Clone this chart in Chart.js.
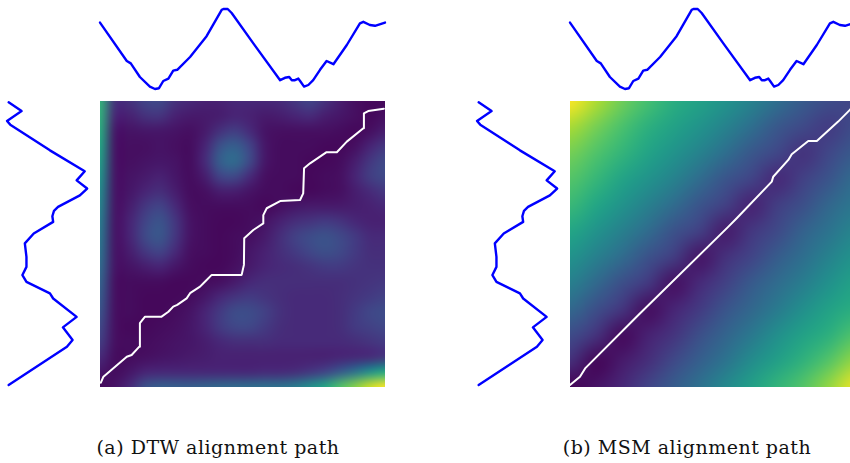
<!DOCTYPE html>
<html>
<head>
<meta charset="utf-8">
<script src="https://cdn.jsdelivr.net/npm/chart.js@4.4.1/dist/chart.umd.min.js"></script>
<style>
  html, body { margin: 0; padding: 0; background: #fff; }
  body { position: relative; width: 850px; height: 463px; overflow: hidden; }
  canvas { position: absolute; }
  .cap { position: absolute; top: 436px; width: 300px; text-align: center; white-space: nowrap;
         font: 19px "DejaVu Serif", serif; letter-spacing: 0.5px; color: #111; }
</style>
</head>
<body>
<canvas id="topA" width="295" height="90" style="left:95px;top:4px"></canvas>
<canvas id="leftA" width="95" height="296" style="left:0px;top:96px"></canvas>
<canvas id="heatA" width="295" height="296" style="left:95px;top:96px"></canvas>
<canvas id="topB" width="295" height="90" style="left:565px;top:4px"></canvas>
<canvas id="leftB" width="95" height="296" style="left:470px;top:96px"></canvas>
<canvas id="heatB" width="295" height="296" style="left:565px;top:96px"></canvas>
<div class="cap" style="left:68px">(a) DTW alignment path</div>
<div class="cap" style="left:537px">(b) MSM alignment path</div>
<script>
// series drawn above the matrix (time 0..100, value 0..1)
const topT = [0, 9.4, 10.8, 14.0, 17.5, 19.3, 20.7, 22.2, 24.0, 25.7, 27.1, 31.6, 37.4, 42.7, 43.3, 44.8, 46.2,
  53.8, 63.2, 64.9, 66.4, 67.3, 68.4, 69.6, 70.4, 71.6, 73.1, 74.8, 77.2, 79.5, 81.9, 86.6, 91.2, 92.4, 94.7, 96.5, 100];
const topV = [0.83, 0.35, 0.32, 0.15, 0.03, 0.00, 0.01, 0.10, 0.13, 0.23, 0.24, 0.40, 0.66, 0.99, 1.00, 1.00, 0.95,
  0.57, 0.11, 0.14, 0.15, 0.11, 0.11, 0.13, 0.09, 0.03, 0.05, 0.11, 0.24, 0.35, 0.31, 0.55, 0.82, 0.84, 0.80, 0.79, 0.83];

// series drawn left of the matrix (time 0 at the bottom)
const leftT = [0, 13.5, 15.9, 20.4, 24.1, 30.6, 32.4, 36.5, 38.9, 41.8, 45.3, 50.1, 53.6, 57.7, 59.7, 61.6, 63.0,
  67.1, 69.5, 72.4, 75.6, 83.0, 92.1, 93.4, 96.9, 100];
const leftV = [0.02, 0.74, 0.81, 0.69, 0.86, 0.57, 0.53, 0.24, 0.19, 0.24, 0.24, 0.22, 0.33, 0.57, 0.56, 0.58, 0.63,
  0.90, 0.99, 0.86, 0.96, 0.53, 0.04, 0.00, 0.18, 0.02];

// warping paths (i along top series, j along left series)
const dtwI = [0.3, 1.2, 9.4, 11.1, 13.8, 14.0, 15.8, 21.6, 24.0, 25.7, 27.1, 30.4, 31.6, 35.1, 36.8, 39.2, 49.7, 50.5,
  50.6, 53.8, 57.3, 57.3, 58.5, 63.2, 70.2, 71.3, 71.6, 73.7, 79.5, 83.1, 86.6, 92.4, 92.6, 94.1, 99.6];
const dtwJ = [1.5, 3.6, 10.6, 11.2, 14.1, 22.3, 24.6, 24.6, 26.3, 28.1, 28.7, 31.0, 32.8, 35.1, 36.8, 39.2, 39.2, 42.7,
  52.0, 54.9, 57.2, 60.1, 62.5, 65.0, 65.4, 67.7, 76.5, 78.2, 82.1, 82.1, 85.8, 90.5, 95.7, 96.5, 97.3];
const msmI = [0, 3.5, 5.3, 24.0, 55.5, 58.5, 70.8, 71.3, 76.6, 77.8, 83.6, 86.6, 94.1, 98.2, 100];
const msmJ = [0.7, 3.6, 6.5, 25.2, 56.0, 59.0, 71.8, 73.5, 79.4, 81.4, 86.0, 86.0, 92.8, 96.9, 98.5];

// cost matrices sampled on an even node grid over 0..100, normalised 0..1, rows top to bottom
const dtwCost = [
  [.65,.14,.14,.20,.22,.14,.11,.09,.09,.11,.11,.11,.12,.16,.20,.14,.08,.04,.02,.02],
  [.64,.10,.09,.14,.15,.09,.07,.07,.08,.10,.09,.07,.08,.10,.12,.08,.06,.04,.02,.04],
  [.62,.06,.05,.06,.06,.05,.04,.07,.14,.18,.12,.05,.04,.04,.04,.04,.03,.02,.04,.08],
  [.60,.05,.04,.04,.05,.04,.03,.10,.25,.30,.20,.06,.03,.03,.03,.02,.02,.04,.10,.16],
  [.56,.05,.04,.05,.06,.05,.03,.12,.30,.35,.22,.06,.03,.03,.02,.02,.03,.08,.16,.22],
  [.52,.05,.05,.07,.09,.06,.03,.08,.20,.22,.12,.04,.03,.03,.02,.03,.04,.10,.18,.22],
  [.48,.05,.06,.10,.13,.08,.03,.04,.08,.08,.05,.03,.03,.02,.02,.03,.04,.08,.12,.16],
  [.45,.05,.08,.16,.20,.12,.04,.03,.03,.03,.03,.02,.04,.06,.07,.07,.07,.08,.09,.11],
  [.42,.05,.10,.20,.26,.16,.05,.03,.02,.02,.03,.05,.09,.13,.15,.17,.15,.11,.09,.09],
  [.40,.05,.10,.22,.27,.16,.05,.03,.02,.03,.04,.07,.13,.19,.23,.25,.22,.17,.12,.12],
  [.38,.05,.08,.16,.20,.12,.04,.03,.02,.03,.06,.09,.13,.17,.21,.24,.22,.17,.13,.13],
  [.35,.05,.05,.08,.10,.06,.03,.02,.02,.04,.07,.10,.12,.13,.15,.17,.17,.15,.14,.14],
  [.32,.04,.03,.03,.03,.02,.02,.03,.04,.07,.11,.13,.13,.13,.13,.13,.13,.14,.15,.16],
  [.29,.04,.03,.02,.02,.02,.03,.06,.11,.15,.17,.15,.13,.12,.12,.12,.13,.15,.17,.19],
  [.26,.04,.03,.02,.02,.03,.05,.10,.17,.23,.23,.19,.14,.12,.12,.12,.13,.17,.21,.23],
  [.22,.04,.02,.02,.03,.04,.06,.10,.17,.21,.21,.17,.13,.12,.12,.12,.13,.17,.19,.21],
  [.18,.04,.03,.03,.04,.05,.06,.08,.11,.13,.13,.13,.12,.12,.12,.12,.12,.13,.15,.17],
  [.12,.03,.03,.04,.05,.06,.07,.08,.09,.09,.09,.09,.09,.09,.09,.09,.10,.11,.12,.15],
  [.06,.03,.06,.10,.11,.11,.11,.11,.11,.11,.11,.12,.12,.13,.16,.20,.28,.38,.50,.60],
  [.02,.05,.12,.25,.30,.30,.30,.32,.34,.35,.36,.37,.38,.42,.50,.60,.72,.82,.93,1.0],
];
const msmCost = [
  [1.0,.88,.78,.70,.62,.57,.51,.44,.36,.28,.23,.20],
  [.87,.79,.71,.63,.57,.51,.44,.36,.27,.22,.17,.23],
  [.79,.72,.65,.58,.51,.44,.36,.27,.21,.14,.21,.28],
  [.73,.66,.58,.51,.44,.35,.26,.20,.11,.19,.26,.35],
  [.67,.59,.51,.43,.35,.26,.19,.09,.18,.24,.33,.39],
  [.59,.51,.43,.35,.25,.19,.07,.16,.22,.31,.38,.45],
  [.51,.43,.35,.25,.18,.05,.14,.20,.29,.36,.44,.51],
  [.43,.34,.24,.17,.04,.12,.19,.28,.35,.42,.50,.57],
  [.34,.24,.16,.03,.10,.17,.26,.33,.41,.49,.57,.62],
  [.23,.15,.02,.09,.15,.24,.32,.40,.49,.57,.63,.72],
  [.14,.01,.07,.13,.22,.30,.38,.48,.56,.64,.73,.84],
  [.00,.05,.11,.20,.29,.37,.47,.56,.65,.73,.84,.98],
];

const VIRIDIS = [[68,1,84],[72,36,117],[65,68,135],[53,95,141],[42,120,142],[33,145,140],
  [34,168,132],[68,191,112],[122,209,81],[189,223,38],[253,231,37]];
function viridis(v) {
  const t = Math.max(0, Math.min(1, v)) * 10, k = Math.min(9, Math.floor(t)), f = t - k;
  return VIRIDIS[k].map((a, n) => Math.round(a + (VIRIDIS[k + 1][n] - a) * f));
}

// paints the node grid as a smoothed image, nodes sitting on 0..100 of both scales
const heatPlugin = {
  id: "heat",
  beforeDatasetsDraw(chart, args, opts) {
    const grid = opts.grid;
    if (!grid) return;
    const rows = grid.length, cols = grid[0].length;
    const off = document.createElement("canvas");
    off.width = cols; off.height = rows;
    const octx = off.getContext("2d"), img = octx.createImageData(cols, rows);
    grid.forEach((row, r) => row.forEach((v, c) => {
      const [R, G, B] = viridis(v), k = (r * cols + c) * 4;
      img.data[k] = R; img.data[k + 1] = G; img.data[k + 2] = B; img.data[k + 3] = 255;
    }));
    octx.putImageData(img, 0, 0);
    const { x, y } = chart.scales;
    const hx = 50 / (cols - 1), hy = 50 / (rows - 1);
    const x0 = x.getPixelForValue(0), x1 = x.getPixelForValue(100);
    const y0 = y.getPixelForValue(100), y1 = y.getPixelForValue(0);
    const ex0 = x.getPixelForValue(-hx), ex1 = x.getPixelForValue(100 + hx);
    const ey0 = y.getPixelForValue(100 + hy), ey1 = y.getPixelForValue(-hy);
    const ctx = chart.ctx;
    ctx.save();
    ctx.beginPath(); ctx.rect(x0, y0, x1 - x0, y1 - y0); ctx.clip();
    ctx.imageSmoothingEnabled = true;
    ctx.imageSmoothingQuality = "high";
    ctx.drawImage(off, ex0, ey0, ex1 - ex0, ey1 - ey0);
    ctx.restore();
  },
};

const pts = (xs, ys) => xs.map((v, i) => ({ x: v, y: ys[i] }));
const BLUE = "#0000ff";

function opts(xr, yr, extra) {
  return {
    responsive: false, animation: false, events: [],
    layout: { padding: 5 },
    plugins: { legend: { display: false }, tooltip: { enabled: false }, ...extra },
    scales: {
      x: { type: "linear", display: false, min: xr[0], max: xr[1] },
      y: { type: "linear", display: false, min: yr[0], max: yr[1] },
    },
  };
}

function lineSet(data, color, width) {
  return { data, showLine: true, borderColor: color, borderWidth: width, pointRadius: 0,
           tension: 0, clip: false, borderJoinStyle: "round", borderCapStyle: "round" };
}

function panel(key, grid, pi, pj) {
  new Chart(document.getElementById("top" + key), {
    type: "scatter",
    data: { datasets: [lineSet(pts(topT, topV), BLUE, 2.4)] },
    options: opts([0, 100], [0, 1]),
  });
  new Chart(document.getElementById("left" + key), {
    type: "scatter",
    data: { datasets: [lineSet(pts(leftV, leftT), BLUE, 2.4)] },
    options: opts([-0.025, 1.025], [-0.7, 100.46]),
  });
  new Chart(document.getElementById("heat" + key), {
    type: "scatter",
    data: { datasets: [lineSet(pts(pi, pj), "#ffffff", 2)] },
    options: opts([0, 100], [0, 100], { heat: { grid } }),
    plugins: [heatPlugin],
  });
}

panel("A", dtwCost, dtwI, dtwJ);
panel("B", msmCost, msmI, msmJ);
</script>
</body>
</html>
